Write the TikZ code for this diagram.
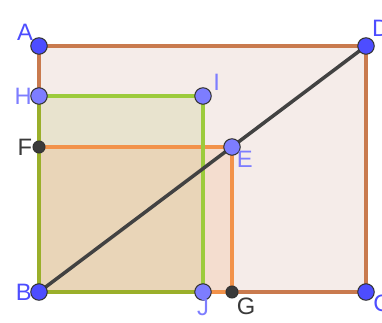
\documentclass[tikz,border=0pt]{standalone}
\usepackage{fontspec}
\setmainfont{Liberation Sans}
\usetikzlibrary{positioning}
\definecolor{edgebrown}{HTML}{C97A4E}
\definecolor{edgegreen}{HTML}{9CCB3C}
\definecolor{edgeolive}{HTML}{9AAF2A}
\definecolor{edgeorange}{HTML}{F2924A}
\definecolor{basefill}{HTML}{F5ECE9}
\definecolor{ptblue}{HTML}{4D4DFF}
\definecolor{ptlight}{HTML}{7D7DFF}
\definecolor{ptdark}{HTML}{3A3A3A}
\definecolor{diag}{HTML}{424242}

\begin{document}
\begin{tikzpicture}[
    x=0.02cm, y=-0.02cm,
    every label/.style={font=\fontsize{13.5}{15}\selectfont, inner sep=1pt},
    edge/.style={line width=2pt},
    bigpt/.style={circle, draw=black!80, line width=0.6pt, fill=ptblue,
                  minimum size=0.33cm, inner sep=0pt},
    lightpt/.style={bigpt, fill=ptlight},
    darkpt/.style={circle, draw=black!80, line width=0.6pt, fill=ptdark,
                   minimum size=0.24cm, inner sep=0pt}
]
    \useasboundingbox (0,0) rectangle (382,322);
    \clip (0,0) rectangle (382,322);

    % corner points
    \coordinate (A) at (39,46);
    \coordinate (D) at (366,46);
    \coordinate (B) at (39,292);
    \coordinate (C) at (366,292);
    \coordinate (H) at (39,96);
    \coordinate (I) at (203,96);
    \coordinate (J) at (203,292);
    \coordinate (F) at (39,147);
    \coordinate (E) at (232,147);
    \coordinate (G) at (232,292);

    % fills
    \fill[basefill] (A) -- (D) -- (C) -- (B) -- cycle;
    \fill[edgeolive, opacity=0.14] (H) -- (I) -- (J) -- (B) -- cycle;
    \fill[edgeorange, opacity=0.16] (F) -- (E) -- (G) -- (B) -- cycle;

    % edges
    \draw[edge, edgebrown] (A) -- (D) -- (C) -- (B) -- cycle;
    \draw[edge, edgeorange] (F) -- (E) -- (G) -- (B);
    \draw[edge, edgegreen] (H) -- (I) -- (J);
    \draw[edge, edgeolive] (J) -- (B) -- (H);
    \draw[edge, diag] (B) -- (D);

    % points
    \node[bigpt, label={[text=ptblue, label distance=-2pt]140:A}] (pA) at (A) {};
    \node[bigpt, label={[text=ptblue, label distance=0pt]62:D}] (pD) at (D) {};
    \node[bigpt, label={[text=ptblue, label distance=-2pt]180:B}] (pB) at (B) {};
    \node[bigpt, label={[text=ptblue, label distance=-2pt]-5:C}] (pC) at (C) {};
    \node[lightpt, label={[text=ptlight, label distance=-2pt]180:H}] (pH) at (H) {};
    \node[lightpt, label={[text=ptlight, label distance=0pt]20:I}] (pI) at (I) {};
    \node[lightpt, label={[text=ptlight, label distance=-2pt]-90:J}] (pJ) at (J) {};
    \node[lightpt, label={[text=ptlight, label distance=-3pt]-35:E}] (pE) at (E) {};
    \node[darkpt, label={[text=ptdark, label distance=-1pt]180:F}] (pF) at (F) {};
    \node[darkpt, label={[text=ptdark, label distance=-1pt]-55:G}] (pG) at (G) {};
\end{tikzpicture}
\end{document}
